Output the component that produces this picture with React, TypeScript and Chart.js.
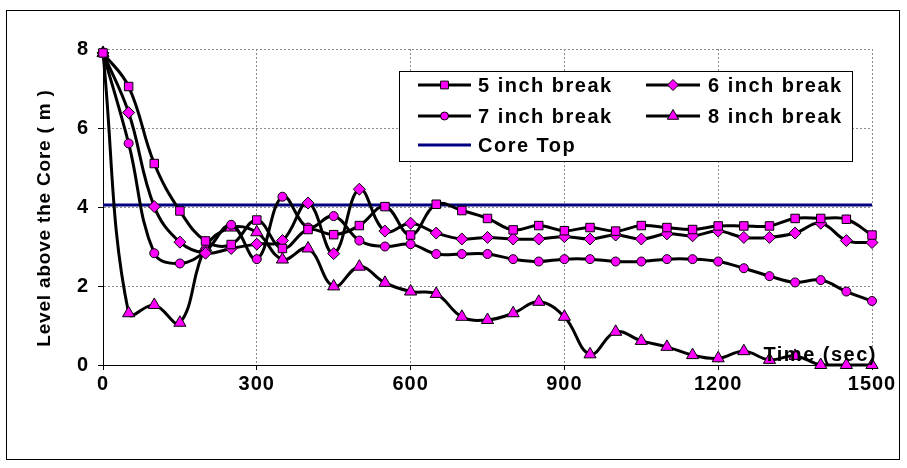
import React, { useEffect, useRef } from "react";
import { Chart, registerables } from "chart.js";

Chart.register(...registerables);

// ---- data ----
const times = [
  0, 50, 100, 150, 200, 250, 300, 350, 400, 450, 500, 550, 600, 650, 700, 750,
  800, 850, 900, 950, 1000, 1050, 1100, 1150, 1200, 1250, 1300, 1350, 1400, 1450, 1500,
];
const fiveInch = [
  7.9, 7.05, 5.1, 3.9, 3.14, 3.05, 3.67, 2.95, 3.43, 3.3, 3.53, 4.01, 3.29, 4.07, 3.91, 3.71,
  3.42, 3.53, 3.4, 3.48, 3.39, 3.53, 3.48, 3.43, 3.52, 3.52, 3.52, 3.71, 3.71, 3.69, 3.29,
];
const sixInch = [
  7.9, 6.39, 4.01, 3.11, 2.83, 2.95, 3.06, 3.15, 4.1, 2.82, 4.45, 3.39, 3.59, 3.34, 3.19, 3.23,
  3.19, 3.19, 3.25, 3.19, 3.29, 3.19, 3.32, 3.27, 3.39, 3.23, 3.23, 3.34, 3.59, 3.15, 3.1,
];
const sevenInch = [
  7.9, 5.61, 2.83, 2.57, 2.88, 3.55, 2.68, 4.26, 3.48, 3.77, 3.15, 3.0, 3.06, 2.81, 2.81, 2.81,
  2.68, 2.62, 2.68, 2.68, 2.62, 2.62, 2.68, 2.68, 2.62, 2.45, 2.25, 2.09, 2.15, 1.86, 1.62,
];
const eightInch = [
  7.9, 1.31, 1.52, 1.07, 2.98, 3.48, 3.36, 2.67, 2.95, 1.99, 2.49, 2.08, 1.86, 1.8, 1.22, 1.14,
  1.31, 1.6, 1.22, 0.27, 0.84, 0.61, 0.46, 0.25, 0.17, 0.35, 0.13, 0.23, 0, 0, 0,
];
const coreTopTimes = [0, 1500];
const coreTopLevel = [4.05, 4.05];

const seriesNames = ["5 inch break", "6 inch break", "7 inch break", "8 inch break", "Core Top"];
const xTickValues = [0, 300, 600, 900, 1200, 1500];
const yTickValues = [0, 2, 4, 6, 8];
const yTitle = "Level above the Core ( m )";
const xTitle = "Time (sec)";

// ---- styles ----
const FONT = '"Liberation Sans", Arial, Helvetica, sans-serif';
const MAGENTA = "#FF00FF";
const NAVY = "#000080";
const markerStyles = ["rect", "rectRot", "circle", "triangle"];
const markerRadii = [6, 6, 4.5, 7];

function drawMarker(ctx: CanvasRenderingContext2D, style: string, x: number, y: number, r: number) {
  ctx.save();
  ctx.fillStyle = MAGENTA;
  ctx.strokeStyle = "#000";
  ctx.lineWidth = 1;
  ctx.beginPath();
  if (style === "rect") {
    const s = Math.SQRT1_2 * r;
    ctx.rect(x - s, y - s, 2 * s, 2 * s);
  } else if (style === "rectRot") {
    ctx.moveTo(x, y - r);
    ctx.lineTo(x + r, y);
    ctx.lineTo(x, y + r);
    ctx.lineTo(x - r, y);
    ctx.closePath();
  } else if (style === "circle") {
    ctx.arc(x, y, r, 0, Math.PI * 2);
  } else {
    const h = r * 0.866;
    ctx.moveTo(x, y - r);
    ctx.lineTo(x + h, y + r / 2);
    ctx.lineTo(x - h, y + r / 2);
    ctx.closePath();
  }
  ctx.fill();
  ctx.stroke();
  ctx.restore();
}

const decorPlugin = {
  id: "decor",
  beforeDraw(chart: any) {
    const ctx = chart.ctx as any;
    ctx.save();
    ctx.fillStyle = "#fff";
    ctx.fillRect(0, 0, chart.width, chart.height);
    ctx.restore();
    ctx.letterSpacing = "1px";
  },
  beforeDatasetsDraw(chart: any) {
    (chart.ctx as any).letterSpacing = "0px";
  },
  afterDraw(chart: any) {
    const ctx = chart.ctx as any;
    ctx.save();
    // outer frame
    ctx.strokeStyle = "#000";
    ctx.lineWidth = 1;
    ctx.strokeRect(6.5, 10.5, 893, 449);

    // y axis title
    const area = chart.chartArea;
    ctx.fillStyle = "#000";
    ctx.font = `bold 19px ${FONT}`;
    ctx.letterSpacing = "0.8px";
    ctx.textAlign = "center";
    ctx.textBaseline = "middle";
    ctx.save();
    ctx.translate(45, 218);
    ctx.rotate(-Math.PI / 2);
    ctx.fillText(yTitle, 0, 0);
    ctx.restore();

    // x axis title inside plot
    ctx.font = `bold 20px ${FONT}`;
    ctx.letterSpacing = "1.5px";
    ctx.textAlign = "right";
    ctx.fillText(xTitle, area.right + 5, area.bottom - 10);

    // legend
    const bx = 399.5, by = 71.5, bw = 453, bh = 90;
    ctx.fillStyle = "#fff";
    ctx.fillRect(bx, by, bw, bh);
    ctx.strokeStyle = "#000";
    ctx.lineWidth = 1;
    ctx.strokeRect(bx, by, bw, bh);
    const rows = [85, 116, 145];
    const cols = [{ x0: 418, x1: 471, tx: 478 }, { x0: 646, x1: 700, tx: 708 }];
    ctx.textAlign = "left";
    ctx.textBaseline = "middle";
    for (let i = 0; i < seriesNames.length; i++) {
      const row = Math.floor(i / 2);
      const col = cols[i % 2];
      const y = rows[row];
      ctx.beginPath();
      ctx.moveTo(col.x0, y);
      ctx.lineTo(col.x1, y);
      ctx.lineWidth = 3;
      ctx.strokeStyle = i < 4 ? "#000" : NAVY;
      ctx.stroke();
      if (i < 4) drawMarker(ctx, markerStyles[i], (col.x0 + col.x1) / 2, y, markerRadii[i] - 0.5);
      ctx.fillStyle = "#000";
      ctx.fillText(seriesNames[i], col.tx, y + 1);
    }
    ctx.restore();
  },
};

const seriesValues = [fiveInch, sixInch, sevenInch, eightInch];

export default function App() {
  const ref = useRef<HTMLCanvasElement | null>(null);
  useEffect(() => {
    if (!ref.current) return;
    const datasets: any[] = seriesValues.map((vals, i) => ({
      label: seriesNames[i],
      data: times.map((t, k) => ({ x: t, y: vals[k] })),
      borderColor: "#000",
      borderWidth: 3,
      backgroundColor: MAGENTA,
      pointStyle: markerStyles[i],
      pointRadius: markerRadii[i],
      pointBackgroundColor: MAGENTA,
      pointBorderColor: "#000",
      pointBorderWidth: 1,
      tension: 0.4,
      fill: false,
      clip: false,
    }));
    datasets.push({
      label: seriesNames[4],
      data: coreTopTimes.map((t, k) => ({ x: t, y: coreTopLevel[k] })),
      borderColor: NAVY,
      borderWidth: 3,
      pointRadius: 0,
      fill: false,
      clip: false,
    });
    const tickFont = { family: FONT, size: 20, weight: "bold" };
    const chart = new Chart(ref.current, {
      type: "line",
      data: { datasets },
      options: {
        animation: false,
        responsive: false,
        devicePixelRatio: 1,
        layout: { padding: { left: 0, right: 35, top: 49, bottom: 0 } },
        plugins: { legend: { display: false }, tooltip: { enabled: false } },
        scales: {
          x: {
            type: "linear",
            min: 0,
            max: 1500,
            afterBuildTicks: (s: any) => {
              s.ticks = xTickValues.map((v) => ({ value: v }));
            },
            afterFit: (s: any) => {
              s.height = 103;
            },
            ticks: {
              color: "#000",
              font: tickFont,
              padding: 2,
              maxRotation: 0,
              autoSkip: false,
              callback: (v: any) => String(v),
            },
            grid: {
              color: "#8a8a8a",
              tickColor: "#000",
              tickLength: 5,
              tickBorderDash: [],
              lineWidth: 1,
            },
            border: { display: true, color: "#000", width: 1, dash: [2, 2] },
          },
          y: {
            type: "linear",
            min: 0,
            max: 8,
            afterBuildTicks: (s: any) => {
              s.ticks = yTickValues.map((v) => ({ value: v }));
            },
            afterFit: (s: any) => {
              s.width = 103;
            },
            ticks: {
              color: "#000",
              font: tickFont,
              padding: 9,
              autoSkip: false,
              callback: (v: any) => String(v),
            },
            grid: {
              color: "#8a8a8a",
              tickColor: "#000",
              tickLength: 5,
              tickBorderDash: [],
              lineWidth: 1,
            },
            border: { display: true, color: "#000", width: 1, dash: [2, 2] },
          },
        },
      },
      plugins: [decorPlugin],
    } as any);
    return () => chart.destroy();
  }, []);
  return (
    <div style={{ position: "absolute", left: 0, top: 0, width: 907, height: 468 }}>
      <canvas ref={ref} width={907} height={468} style={{ display: "block" }} />
    </div>
  );
}
